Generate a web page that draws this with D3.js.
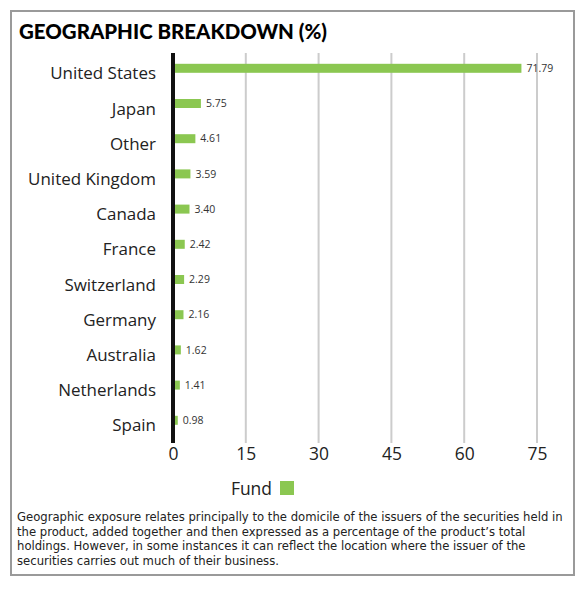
<!DOCTYPE html>
<html>
<head>
<meta charset="utf-8">
<script src="https://cdn.jsdelivr.net/npm/d3@7"></script>
<style>
  html, body { margin: 0; padding: 0; background: #fff; }
  svg { display: block; }
</style>
</head>
<body>
<div id="chart"></div>
<script>
const categories = ["United States","Japan","Other","United Kingdom","Canada","France","Switzerland","Germany","Australia","Netherlands","Spain"];
const fundValues = [71.79,5.75,4.61,3.59,3.40,2.42,2.29,2.16,1.62,1.41,0.98];
const tickValues = [0,15,30,45,60,75];
const seriesName = "Fund";
const titleText = "GEOGRAPHIC BREAKDOWN (%)";
const footnoteLines = [
  "Geographic exposure relates principally to the domicile of the issuers of the securities held in",
  "the product, added together and then expressed as a percentage of the product\u2019s total",
  "holdings. However, in some instances it can reflect the location where the issuer of the",
  "securities carries out much of their business."
];

const W = 588, H = 592;
const green = "#8bc751";
const labelFont = "'Open Sans', sans-serif";

const svg = d3.select("#chart").append("svg").attr("width", W).attr("height", H);

svg.append("rect").attr("x", 11).attr("y", 11).attr("width", 563).attr("height", 564)
  .attr("fill", "#fff").attr("stroke", "#9a9a9a").attr("stroke-width", 2);

function fit(sel, width) {
  const node = sel.node();
  let fs = parseFloat(sel.attr("font-size"));
  for (let i = 0; i < 4; i++) {
    const w = node.getComputedTextLength();
    if (w > 0) { fs = fs * width / w; sel.attr("font-size", fs); }
  }
  return fs;
}

// Title
const title = svg.append("text").attr("x", 19).attr("y", 39)
  .attr("font-family", "Lato, Roboto, sans-serif").attr("font-weight", 900)
  .attr("font-size", 17).attr("fill", "#000").text(titleText);
fit(title, 308);

const x = d3.scaleLinear().domain([0, 75]).range([173, 537]);
const y = d3.scalePoint().domain(categories).range([68.3, 420.3]);
const barH = 9;
const gridTop = 53, gridBottom = 443;

// Gridlines
svg.append("g").selectAll("line").data(tickValues.filter(d => d > 0)).join("line")
  .attr("x1", d => x(d)).attr("x2", d => x(d))
  .attr("y1", gridTop).attr("y2", gridBottom)
  .attr("stroke", "#cccccc").attr("stroke-width", 2);

// Bars
svg.append("g").selectAll("rect").data(fundValues).join("rect")
  .attr("x", x(0))
  .attr("y", (d, i) => y(categories[i]) - barH / 2)
  .attr("width", d => x(d) - x(0))
  .attr("height", barH)
  .attr("fill", green);

// Zero axis line
svg.append("line").attr("x1", x(0)).attr("x2", x(0)).attr("y1", gridTop).attr("y2", gridBottom)
  .attr("stroke", "#111").attr("stroke-width", 4);

// Value labels
svg.append("g").selectAll("text").data(fundValues).join("text")
  .attr("x", d => x(d) + 5)
  .attr("y", (d, i) => y(categories[i]))
  .attr("dy", "0.35em")
  .attr("font-family", labelFont).attr("font-size", 10.5).attr("fill", "#333")
  .text(d => d.toFixed(2));

// Category labels
const cat = svg.append("g").selectAll("text").data(categories).join("text")
  .attr("x", 156).attr("y", d => y(d) + 5).attr("dy", "0.36em")
  .attr("text-anchor", "end")
  .attr("font-family", labelFont).attr("font-size", 16).attr("fill", "#222")
  .text(d => d);
const ukSel = cat.filter(d => d === "United Kingdom");
const catFs = fit(ukSel, 128);
cat.attr("font-size", catFs);

// X axis tick labels
const axis = d3.axisBottom(x).tickValues(tickValues).tickSize(0).tickPadding(0);
const ag = svg.append("g").attr("transform", `translate(0, 446)`).call(axis);
ag.select(".domain").remove();
ag.selectAll("text").attr("font-family", labelFont).attr("font-size", catFs + 0.5)
  .attr("fill", "#222").attr("dy", "0.78em");

// Legend
svg.append("text").attr("x", 272).attr("y", 495).attr("text-anchor", "end")
  .attr("font-family", labelFont).attr("font-size", catFs + 0.5).attr("fill", "#222").text(seriesName);
svg.append("rect").attr("x", 280).attr("y", 481).attr("width", 14).attr("height", 14).attr("fill", green);

// Footnote
const fn = svg.append("g").selectAll("text").data(footnoteLines).join("text")
  .attr("x", 17).attr("y", (d, i) => 521 + i * 14.5)
  .attr("font-family", "'DejaVu Sans', sans-serif").attr("font-size", 11).attr("fill", "#222")
  .text(d => d);
const fnFs = fit(fn.filter((d, i) => i === 0), 545);
fn.attr("font-size", fnFs);
</script>
</body>
</html>
